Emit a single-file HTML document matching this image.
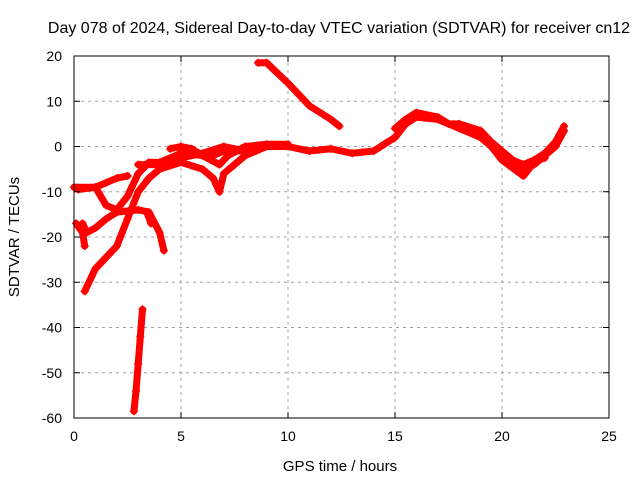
<!DOCTYPE html>
<html><head><meta charset="utf-8"><style>
body{margin:0;background:#fff;}
svg{display:block;font-family:"Liberation Sans",sans-serif;}
</style></head><body>
<svg id="chart" width="640" height="480">
<text x="339" y="33" font-size="16" text-anchor="middle" fill="#000">Day 078 of 2024, Sidereal Day-to-day VTEC variation (SDTVAR) for receiver cn12</text>
<text x="340" y="471" font-size="15" text-anchor="middle">GPS time / hours</text>
<text transform="translate(19,237) rotate(-90)" font-size="15" text-anchor="middle">SDTVAR / TECUs</text>
<g id="grid"></g><g id="series"></g><g id="axes"></g>
</svg>
<script>
const xTicks=[0,5,10,15,20,25];
const yTicks=[20,10,0,-10,-20,-30,-40,-50,-60];
const trackMain=[[6.5,-2],[7,-1],[8,-1],[9,0],[10,0],[11,-1],[12,-0.5],[13,-1.5],[14,-1],[15,2],[15.5,5],[16,6.5],[17,6],[18,4],[19,2],[19.5,0],[20,-2],[20.5,-4],[21,-5],[21.5,-4],[22,-2],[22.5,0],[22.9,3.5]];
const trackBand=[[15,4],[15.5,6],[16,7.5],[17,6.5],[17.5,5],[18,5],[19,3.5],[19.5,1],[20,-1],[20.5,-3],[21,-4],[21.5,-3],[22,-1.5],[22.5,1],[22.9,4.5]];
const trackLow=[[19,3],[20,-3],[21,-6.5],[21.5,-3.5],[22,-2.5]];
const trackTop=[[8.6,18.5],[9,18.5],[10,14],[11,9],[12,6],[12.4,4.5]];
const trackC=[[0,-9],[1,-9],[1.5,-8],[2,-7],[2.5,-6.5]];
const trackE=[[0.4,-17],[0.6,-19],[1,-18],[1.5,-16],[2,-14.5],[3,-14],[3.5,-14.5],[4,-19],[4.2,-23]];
const trackF=[[0.1,-17],[0.4,-19],[0.5,-22]];
const trackG=[[0.5,-32],[1,-27],[2,-22],[2.5,-16],[3,-10],[3.5,-7],[4,-5],[5,-3.5],[6,-5],[6.5,-7],[6.8,-10]];
const trackH=[[0.2,-9.5],[1,-9],[1.5,-13],[2,-14],[2.5,-11],[3,-6],[3.5,-3.5],[4,-3.5],[5,-1.5],[6,-2],[7,-1]];
const trackI=[[3,-4],[4,-4],[5,-2.5],[6,-1.5],[7,0],[8,-1]];
const trackJ=[[4.5,-0.5],[5,0],[5.5,-0.5],[6,-2],[6.8,-4],[7.2,-2],[8,0],[9,0.5],[10,0.5]];
const trackK=[[6.8,-10],[7,-6],[7.5,-4],[8,-2],[8.5,-1],[9,0]];
const trackL=[[2.8,-58.5],[2.9,-54],[3,-48],[3.1,-42],[3.2,-36]];
const trackM=[[3.4,-14.5],[3.6,-17]];
const tracks=[trackMain,trackBand,trackLow,trackTop,trackC,trackE,trackF,trackG,trackH,trackI,trackJ,trackK,trackL,trackM];
const L=74,R=609,T=56,B=418,x0=0,x1=25,y0=-60,y1=20;
const sx=v=>L+(v-x0)/(x1-x0)*(R-L);
const sy=v=>B-(v-y0)/(y1-y0)*(B-T);
const NS="http://www.w3.org/2000/svg";
function mk(t,a,p){const e=document.createElementNS(NS,t);for(const k in a)e.setAttribute(k,a[k]);p.appendChild(e);return e;}
const grid=document.getElementById('grid'),axes=document.getElementById('axes'),ser=document.getElementById('series');
xTicks.forEach(v=>{
 const x=sx(v);
 if(v>x0&&v<x1){const g=mk('line',{x1:x,x2:x,y1:T,y2:B,stroke:'#a0a0a0','stroke-dasharray':'3,4'},grid);
 
 }
 mk('line',{x1:x,x2:x,y1:B,y2:B-6,stroke:'#000'},axes);mk('line',{x1:x,x2:x,y1:T,y2:T+6,stroke:'#000'},axes);
 const t=mk('text',{x:x,y:B+23,'font-size':14,'text-anchor':'middle'},axes);t.textContent=v;
 
 
});
yTicks.forEach(v=>{
 const y=sy(v);
 if(v>y0&&v<y1){const g=mk('line',{x1:L,x2:R,y1:y,y2:y,stroke:'#a0a0a0','stroke-dasharray':'3,4'},grid);
 
 }
 mk('line',{x1:L,x2:L+6,y1:y,y2:y,stroke:'#000'},axes);mk('line',{x1:R,x2:R-6,y1:y,y2:y,stroke:'#000'},axes);
 const t=mk('text',{x:L-12,y:y+5,'font-size':14,'text-anchor':'end'},axes);t.textContent=v;
 
 
});
const fr=mk('rect',{x:L,y:T,width:R-L,height:B-T,fill:'none',stroke:'#000'},axes);


tracks.forEach(tr=>{
 const pl=mk('polyline',{points:tr.map(p=>sx(p[0])+','+sy(p[1])).join(' '),fill:'none',stroke:'#f00','stroke-width':7,'stroke-linejoin':'round','stroke-linecap':'round'},ser);
 
 
 tr.forEach(p=>{const x=sx(p[0]),y=sy(p[1]);
  const m=mk('path',{d:`M${x-4},${y}H${x+4}M${x},${y-4}V${y+4}`,stroke:'#f00','stroke-width':1.5},ser);
  
  });
});
</script>
</body></html>
